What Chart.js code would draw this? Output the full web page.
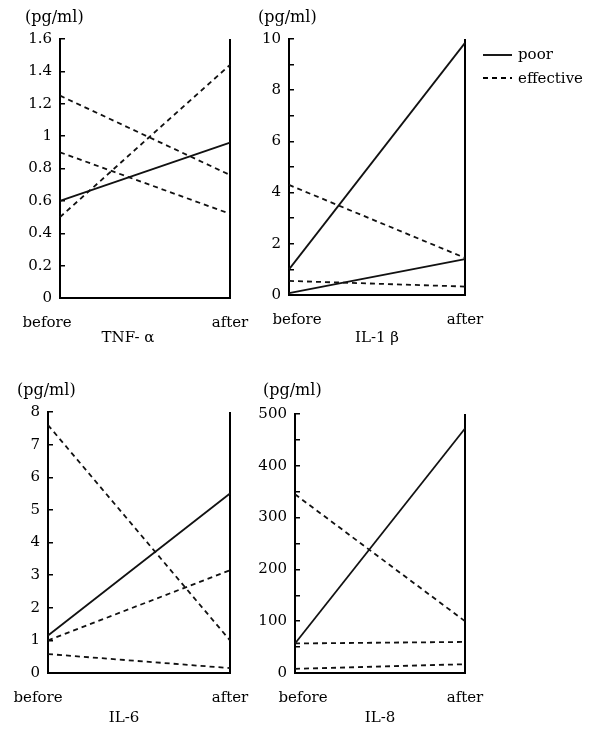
<!DOCTYPE html>
<html>
<head>
<meta charset="utf-8">
<script src="https://cdn.jsdelivr.net/npm/chart.js@4/dist/chart.umd.min.js"></script>
<style>
    body { margin: 0; background: #fff; width: 601px; height: 730px; position: relative; overflow: hidden; }
    canvas { position: absolute; }
    .unit, .legend-text { position: absolute; font-family: "DejaVu Serif", serif; font-size: 16px; color: #000; line-height: 18px; white-space: nowrap; }
    .legend-text { font-size: 15px; }
    svg { position: absolute; }
</style>
</head>
<body>
<canvas id="tnf"></canvas>
<canvas id="il1"></canvas>
<canvas id="il6"></canvas>
<canvas id="il8"></canvas>

<div class="unit" style="left:25px; top:8px;">(pg/ml)</div>
<div class="unit" style="left:258px; top:8px;">(pg/ml)</div>
<div class="unit" style="left:17px; top:381px;">(pg/ml)</div>
<div class="unit" style="left:263px; top:381px;">(pg/ml)</div>

<svg style="left:480px; top:45px;" width="36" height="40">
    <line x1="3" y1="10" x2="32" y2="10" stroke="#000" stroke-width="1.8"/>
    <line x1="3" y1="33" x2="32" y2="33" stroke="#000" stroke-width="1.8" stroke-dasharray="5,4"/>
</svg>
<div class="legend-text" style="left:518px; top:45px;">poor</div>
<div class="legend-text" style="left:518px; top:69px;">effective</div>

<script>
// ── Data ─────────────────────────────────────────────────────
const xLabels = ["before", "after"];

const tnfPoor = [[0.6, 0.96]];
const tnfEffective = [[1.25, 0.76], [0.9, 0.52], [0.5, 1.44]];
const tnfTicks = [0, 1.6, 0.2, 0.2];   // min, max, step, label every

const il1Poor = [[1.0, 9.85], [0.07, 1.4]];
const il1Effective = [[4.3, 1.45], [0.55, 0.33]];
const il1Ticks = [0, 10, 1, 2];

const il6Poor = [[1.15, 5.5]];
const il6Effective = [[7.6, 1.0], [1.0, 3.15], [0.58, 0.15]];
const il6Ticks = [0, 8, 1, 1];

const il8Poor = [[57, 472]];
const il8Effective = [[345, 100], [57, 60], [8, 17]];
const il8Ticks = [0, 500, 50, 100];

// ── Style ────────────────────────────────────────────────────
const FONT = "'DejaVu Serif', serif";
const INK = "#000";
const TITLE_H = 22;   // 15px * 1.2 + padding top 4

// x labels drawn from the category scale, with a small per-label shift
const xLabelPlugin = {
    id: "xLabels",
    afterDraw(chart, args, opts) {
        const sc = chart.scales.x;
        const ctx = chart.ctx;
        ctx.save();
        ctx.font = `15px ${FONT}`;
        ctx.fillStyle = INK;
        ctx.textAlign = "center";
        ctx.textBaseline = "middle";
        sc.ticks.forEach((t, i) => {
            const x = sc.getPixelForTick(i) + (opts.offsets[i] || 0);
            ctx.fillText(sc.getLabelForValue(t.value), x, sc.top + opts.gap);
        });
        ctx.restore();
    },
};

function makeDatasets(poor, effective) {
    const sets = [];
    poor.forEach((d) => sets.push({ label: "poor", data: d, borderDash: [] }));
    effective.forEach((d) => sets.push({ label: "effective", data: d, borderDash: [5, 4] }));
    return sets.map((s) => Object.assign(s, {
        borderColor: "#111", borderWidth: 1.8, pointRadius: 0, tension: 0, fill: false,
    }));
}

// box = canvas rect, area = wanted plot rect, titleX = centre of title
function buildPanel(id, box, area, titleText, titleX, poor, effective, ticks, xOffsets) {
    const [cx, cy, cw, ch] = box;
    const [L, R, T, B, xh] = area;
    const canvas = document.getElementById(id);
    canvas.width = cw;
    canvas.height = ch;
    canvas.style.left = cx + "px";
    canvas.style.top = cy + "px";

    // full-width title, shifted by left padding; fall back to plot-centred title
    let padLeft = 2 * titleX - R - cx;
    let yw = L - cx - padLeft;
    let titleFull = true;
    if (yw < 20) {
        padLeft = 0;
        yw = L - cx;
        titleFull = false;
    }
    const padRight = cx + cw - R;
    const padTop = T - cy;
    const padBottom = cy + ch - (B + xh + TITLE_H);

    const [min, max, step, every] = ticks;

    new Chart(canvas.getContext("2d"), {
        type: "line",
        data: { labels: xLabels, datasets: makeDatasets(poor, effective) },
        plugins: [xLabelPlugin],
        options: {
            responsive: false,
            animation: false,
            layout: { padding: { left: padLeft, right: padRight, top: padTop, bottom: padBottom } },
            plugins: {
                legend: { display: false },
                tooltip: { enabled: false },
                title: {
                    display: true, position: "bottom", text: titleText, color: INK,
                    fullSize: titleFull,
                    font: { family: FONT, size: 15, weight: "normal" },
                    padding: { top: 4, bottom: 0 },
                },
                xLabels: { offsets: xOffsets, gap: 25 },
            },
            scales: {
                x: {
                    type: "category",
                    offset: false,
                    ticks: { display: false },
                    grid: {
                        drawTicks: false,
                        lineWidth: 2,
                        color: (c) => (c.index === 1 ? INK : "rgba(0,0,0,0)"),
                    },
                    border: { color: INK, width: 2 },
                    afterFit: (s) => { s.height = xh; },
                },
                y: {
                    min: min, max: max,
                    ticks: {
                        stepSize: step,
                        color: INK,
                        padding: 13,
                        font: { family: FONT, size: 15 },
                        callback: (v) => {
                            const k = Math.round(v / every * 1000) / 1000;
                            if (!Number.isInteger(k)) return "";
                            return Math.round(v * 100) / 100;
                        },
                    },
                    grid: { drawOnChartArea: false, tickLength: -5, color: INK, lineWidth: 1.5 },
                    border: { color: INK, width: 2 },
                    afterFit: (s) => { s.width = yw; },
                },
            },
        },
    });
}

// ── Panels ───────────────────────────────────────────────────
buildPanel("tnf", [0, 0, 262, 352], [60, 230, 39, 298, 27], "TNF- α", 128,
    tnfPoor, tnfEffective, tnfTicks, [-13, 0]);
buildPanel("il1", [240, 0, 250, 352], [289, 465, 39, 295, 30], "IL-1 β", 377,
    il1Poor, il1Effective, il1Ticks, [8, 0]);
buildPanel("il6", [0, 370, 262, 360], [48, 230, 412, 673, 32], "IL-6", 124,
    il6Poor, il6Effective, il6Ticks, [-10, 0]);
buildPanel("il8", [240, 370, 250, 360], [295, 465, 414, 673, 32], "IL-8", 383,
    il8Poor, il8Effective, il8Ticks, [8, 0]);
</script>
</body>
</html>
